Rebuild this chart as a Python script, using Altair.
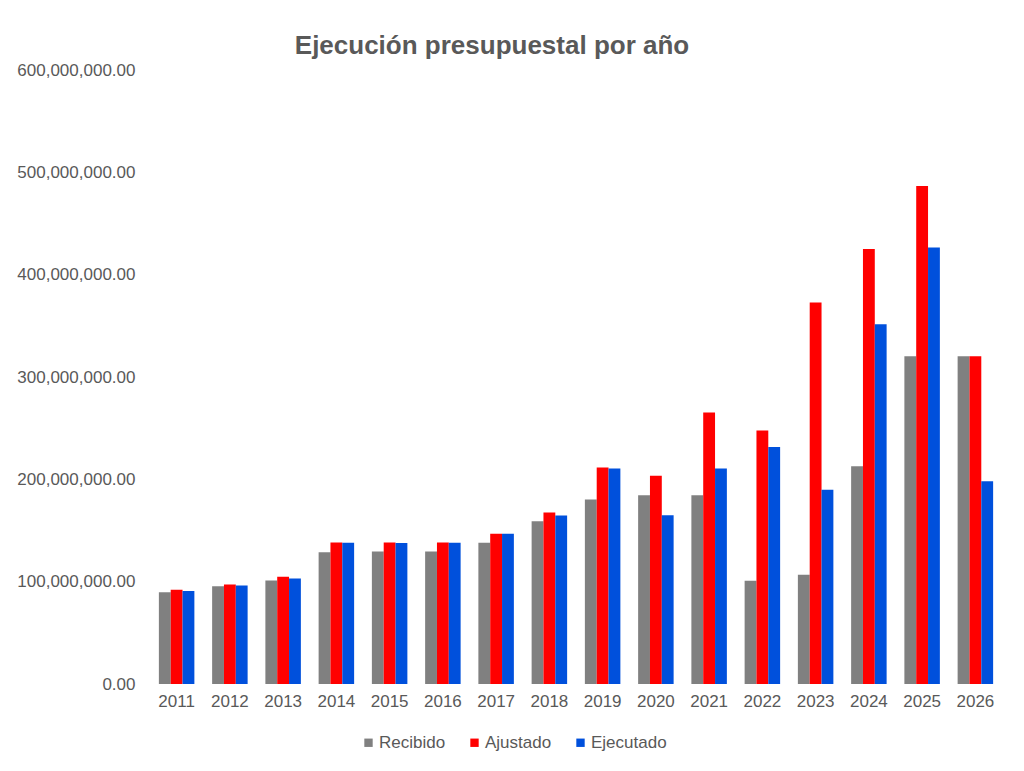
import altair as alt
import pandas as pd

years = [str(y) for y in range(2011, 2027)]
series = ["Recibido", "Ajustado", "Ejecutado"]
colors = ["#808080", "#FF0000", "#0050DC"]

recibido = [89.6, 95.5, 101.1, 128.8, 129.5, 129.5, 138.0, 159.1, 180.3, 184.5,
            184.5, 100.8, 106.7, 212.9, 320.3, 320.3]
ajustado = [92.0, 97.2, 104.7, 138.3, 138.3, 138.3, 146.8, 167.6, 211.6, 203.5,
            265.2, 247.6, 372.8, 425.0, 486.6, 320.3]
ejecutado = [91.0, 96.2, 103.0, 138.0, 137.7, 138.0, 146.8, 164.7, 210.7, 165.0,
             210.7, 231.5, 189.8, 351.6, 426.6, 198.2]

rows = []
for name, vals in zip(series, [recibido, ajustado, ejecutado]):
    for y, v in zip(years, vals):
        rows.append({"Año": y, "Serie": name, "Valor": v * 1e6})
df = pd.DataFrame(rows)

FONT = "Liberation Sans"
GREY = "#595959"

chart = alt.Chart(df).mark_bar().encode(
    x=alt.X("Año:N", sort=years, title=None,
            scale=alt.Scale(paddingInner=1/3, paddingOuter=1/6),
            axis=alt.Axis(labelAngle=0, ticks=False, domain=False, grid=False,
                          labelPadding=9, labelFontSize=17, labelColor=GREY,
                          labelFont=FONT)),
    xOffset=alt.XOffset("Serie:N", sort=series,
                        scale=alt.Scale(paddingInner=0, paddingOuter=0)),
    y=alt.Y("Valor:Q", title=None,
            scale=alt.Scale(domain=[0, 600000000], nice=False),
            axis=alt.Axis(values=[0, 100000000, 200000000, 300000000, 400000000,
                                  500000000, 600000000],
                          format=",.2f", ticks=False, domain=False, grid=False,
                          labelPadding=15, labelFontSize=17, labelColor=GREY,
                          labelFont=FONT)),
    color=alt.Color("Serie:N", sort=series,
                    scale=alt.Scale(domain=series, range=colors),
                    legend=alt.Legend(title=None, orient="none", direction="horizontal",
                                      legendX=210, legendY=664,
                                      symbolType="square", symbolSize=70,
                                      symbolStrokeWidth=0, labelOffset=2,
                                      columnPadding=20, labelFontSize=17,
                                      labelColor=GREY, labelFont=FONT)),
).properties(
    width=852,
    height=614,
    title=alt.Title("Ejecución presupuestal por año", fontSize=26, fontWeight="bold",
                    color=GREY, font=FONT, anchor="middle", frame="group",
                    dx=-84, dy=27, baseline="alphabetic", offset=8),
    autosize=alt.AutoSizeParams(type="none"),
    padding={"left": 142, "top": 62, "right": 14, "bottom": 79},
).configure_view(stroke=None)

chart.save("out.html", embed_options={"renderer": "svg", "actions": False})
